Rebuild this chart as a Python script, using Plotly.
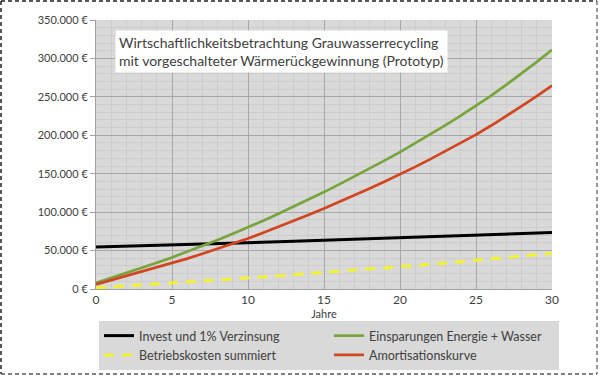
import plotly.graph_objects as go

years = list(range(31))
invest = [54500, 55000, 55600, 56200, 56700, 57300, 57900, 58400, 59000, 59600,
          60200, 60800, 61400, 62000, 62700, 63300, 63900, 64600, 65200, 65800,
          66500, 67200, 67800, 68500, 69200, 69900, 70600, 71300, 72000, 72700, 73400]
einsparungen = [8000, 14300, 20800, 27400, 34200, 41100, 48500, 56100, 63900, 71900,
                80100, 88900, 97900, 107100, 116500, 126100, 136100, 146300, 156700, 167300,
                178100, 189500, 201200, 213200, 225500, 238100, 251700, 265800, 280400, 295500, 311100]
betriebskosten = [1500, 2700, 3900, 5100, 6400, 7700, 9000, 10300, 11600, 12900,
                  14300, 15700, 17100, 18500, 19900, 21400, 22900, 24400, 25900, 27400,
                  29000, 30600, 32200, 33900, 35600, 37300, 39000, 40800, 42600, 44500, 46400]
amortisation = [6000, 11600, 16900, 22300, 27800, 33400, 39500, 45800, 52300, 59000,
                65800, 73200, 80800, 88600, 96600, 104700, 113200, 121900, 130800, 139900,
                149100, 158900, 169000, 179300, 189900, 200800, 212700, 225000, 237800, 251000, 264700]

names = ["Invest und 1% Verzinsung", "Einsparungen Energie + Wasser",
         "Betriebskosten summiert", "Amortisationskurve"]
title_text = "Wirtschaftlichkeitsbetrachtung Grauwasserrecycling<br>mit vorgeschalteter Wärmerückgewinnung (Prototyp)"

FONT = "Lato"
TXT = "#404040"

fig = go.Figure()
fig.add_trace(go.Scatter(x=years, y=invest, name=names[0], mode="lines",
                         line=dict(color="#000000", width=3)))
fig.add_trace(go.Scatter(x=years, y=einsparungen, name=names[1], mode="lines",
                         line=dict(color="#77a53b", width=2.7)))
fig.add_trace(go.Scatter(x=years, y=betriebskosten, name=names[2], mode="lines",
                         line=dict(color="#f2f230", width=3, dash="10px,8px")))
fig.add_trace(go.Scatter(x=years, y=amortisation, name=names[3], mode="lines",
                         line=dict(color="#d2461f", width=2.7)))

L, R, T, B = 96, 552, 20, 289
W, H = R - L, B - T
px = lambda p: (p - L) / W
py = lambda q: (B - q) / H

fig.update_layout(
    width=600, height=377,
    margin=dict(l=L, r=600 - R, t=T, b=377 - B, autoexpand=False),
    paper_bgcolor="white",
    plot_bgcolor="#d9d9d9",
    separators=",.",
    font=dict(family=FONT, color=TXT, size=11),
    showlegend=True,
    legend=dict(orientation="h", x=px(99), y=py(321), xanchor="left", yanchor="top",
                bgcolor="#d9d9d9", entrywidth=185, entrywidthmode="pixels",
                font=dict(family=FONT, size=12.5, color=TXT),
                tracegroupgap=0, itemwidth=30),
    xaxis=dict(range=[0, 30], dtick=5, showgrid=True, gridcolor="#a8a8a8", gridwidth=1,
               minor=dict(dtick=1, showgrid=True, gridcolor="#cdcdcd", gridwidth=1),
               zeroline=False, showline=True, linecolor="#a0a0a0",
               ticks="", ticklen=0, tickfont=dict(size=12, color=TXT),
               title=dict(text="Jahre", font=dict(size=11, color=TXT), standoff=2)),
    yaxis=dict(range=[0, 350000], dtick=50000, tickformat=",.0f", ticksuffix=" €",
               showgrid=True, gridcolor="#a8a8a8", gridwidth=1,
               minor=dict(dtick=10000, showgrid=True, gridcolor="#cdcdcd", gridwidth=1),
               zeroline=False, showline=True, linecolor="#a0a0a0",
               ticks="outside", ticklen=5, tickcolor="#a0a0a0",
               tickfont=dict(size=11, color=TXT)),
)

fig.add_annotation(x=px(115), y=py(30), xref="paper", yref="paper",
                   xanchor="left", yanchor="top", align="left",
                   text=title_text, showarrow=False, bgcolor="white", borderpad=3,
                   font=dict(family=FONT, size=14, color=TXT))

# dashed outer frame
fig.add_shape(type="line", xref="paper", yref="paper", x0=px(1), x1=px(1), y0=py(1), y1=py(374),
              line=dict(color="#222222", width=1.5, dash="4px,3px"))
fig.add_shape(type="line", xref="paper", yref="paper", x0=px(1), x1=px(597), y0=py(1), y1=py(1),
              line=dict(color="#222222", width=1.5, dash="4px,3px"))
fig.add_shape(type="line", xref="paper", yref="paper", x0=px(597), x1=px(597), y0=py(1), y1=py(374),
              line=dict(color="#777777", width=1.5, dash="4px,3px"))
fig.add_shape(type="line", xref="paper", yref="paper", x0=px(1), x1=px(597), y0=py(374), y1=py(374),
              line=dict(color="#555555", width=1.5, dash="4px,3px"))

fig.write_html("out.html", config={"displayModeBar": False},
               post_script="document.body.style.margin='0px';")
